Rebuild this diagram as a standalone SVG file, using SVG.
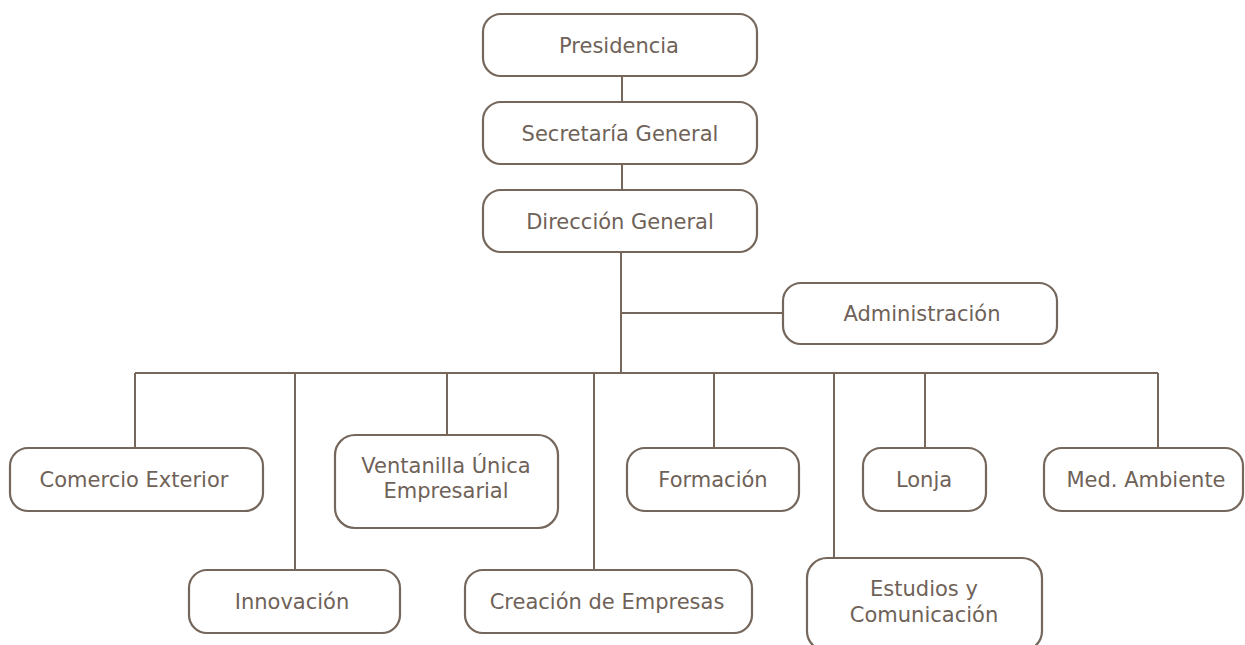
<svg xmlns="http://www.w3.org/2000/svg" width="1245" height="645" viewBox="0 0 1245 645">
<style>
.box{fill:#ffffff;stroke:#75675c;stroke-width:2.2}
.lbl{font-family:"DejaVu Sans","Verdana",sans-serif;font-size:21px;fill:#6f6258;text-anchor:middle}
.con{stroke:#75675c;stroke-width:2;fill:none}
</style>
<rect width="1245" height="645" fill="#ffffff"/>
<g id="connectors" class="con">
<line x1="622" y1="76" x2="622" y2="102"/>
<line x1="622" y1="164" x2="622" y2="190"/>
<line x1="621" y1="252" x2="621" y2="373"/>
<line x1="621" y1="313" x2="783" y2="313"/>
<line x1="135" y1="373" x2="1158" y2="373"/>
<line x1="135" y1="373" x2="135" y2="448"/>
<line x1="295" y1="373" x2="295" y2="570"/>
<line x1="447" y1="373" x2="447" y2="435"/>
<line x1="594" y1="373" x2="594" y2="570"/>
<line x1="714" y1="373" x2="714" y2="448"/>
<line x1="834" y1="373" x2="834" y2="558"/>
<line x1="925" y1="373" x2="925" y2="448"/>
<line x1="1158" y1="373" x2="1158" y2="448"/>
</g>
<g id="presidencia"><rect class="box" x="483" y="14" width="274" height="62" rx="18"/><text class="lbl" x="619" y="53">Presidencia</text></g>
<g id="secretaria"><rect class="box" x="483" y="102" width="274" height="62" rx="18"/><text class="lbl" x="620" y="141">Secretaría General</text></g>
<g id="direccion"><rect class="box" x="483" y="190" width="274" height="62" rx="18"/><text class="lbl" x="620" y="229">Dirección General</text></g>
<g id="administracion"><rect class="box" x="783" y="283" width="274" height="61" rx="18"/><text class="lbl" x="922" y="321">Administración</text></g>
<g id="comercio"><rect class="box" x="10" y="448" width="253" height="63" rx="18"/><text class="lbl" x="134" y="487">Comercio Exterior</text></g>
<g id="innovacion"><rect class="box" x="189" y="570" width="211" height="63" rx="18"/><text class="lbl" x="292" y="609">Innovación</text></g>
<g id="ventanilla"><rect class="box" x="335" y="435" width="223" height="93" rx="20"/><text class="lbl" x="446" y="473">Ventanilla Única</text><text class="lbl" x="446" y="498">Empresarial</text></g>
<g id="creacion"><rect class="box" x="465" y="570" width="287" height="63" rx="18"/><text class="lbl" x="607" y="609">Creación de Empresas</text></g>
<g id="formacion"><rect class="box" x="627" y="448" width="172" height="63" rx="18"/><text class="lbl" x="713" y="487">Formación</text></g>
<g id="estudios"><rect class="box" x="807" y="558" width="235" height="93" rx="20"/><text class="lbl" x="924" y="596">Estudios y</text><text class="lbl" x="924" y="622">Comunicación</text></g>
<g id="lonja"><rect class="box" x="863" y="448" width="123" height="63" rx="18"/><text class="lbl" x="924" y="487">Lonja</text></g>
<g id="medambiente"><rect class="box" x="1044" y="448" width="199" height="63" rx="18"/><text class="lbl" x="1146" y="487">Med. Ambiente</text></g>
</svg>
